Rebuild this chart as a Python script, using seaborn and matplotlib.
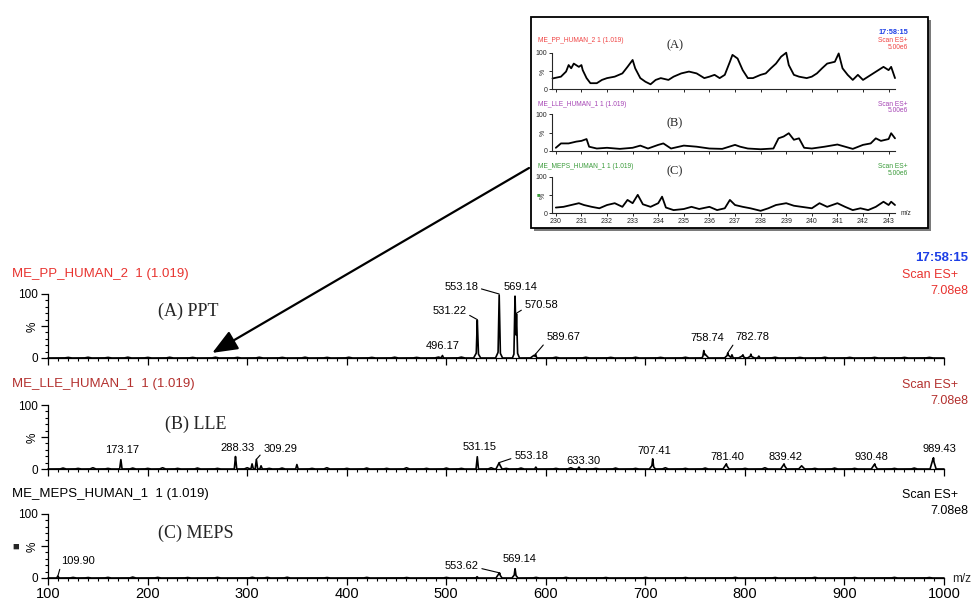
import numpy as np
import pandas as pd
import matplotlib
matplotlib.use("Agg")
import matplotlib.pyplot as plt
import seaborn as sns
from matplotlib.patches import Rectangle
from matplotlib.ticker import MultipleLocator, FixedLocator

sns.set_theme(style="ticks")
plt.rcParams["font.family"] = ["Liberation Sans", "DejaVu Sans"]

# ------------------------------------------------------------------ data
# (A) PPT main spectrum: labelled / sharp peaks (m/z, relative %)
pp_mz = [496.17, 531.22, 553.18, 569.14, 570.58, 589.67, 758.74, 782.78, 787.0, 798.0, 806.0, 814.0]
pp_int = [4, 60, 100, 100, 70, 6, 12, 8, 5, 5, 6, 3]
# broad bumps / baseline noise
pp_bump_mz = [120, 140, 160, 180, 200, 222, 245, 268, 290, 312, 335, 358, 380, 402, 425, 448, 470,
              492, 515, 531, 553, 570, 588, 610, 640, 665, 690, 715, 740, 760, 783, 797, 806,
              830, 855, 880, 905, 930, 960, 985]
pp_bump_int = [1, 1.2, 1, 1.3, 1, 1.2, 1, 1.3, 1, 1.2, 1, 1.3, 1, 1.2, 1, 1.3, 1,
               1.5, 1.5, 10, 12, 14, 4, 1.3, 1.2, 1, 1.2, 1, 1.2, 6, 5, 3, 3,
               1.2, 1, 1.2, 1, 1, 1, 1]
pp_labels = [496.17, 531.22, 553.18, 569.14, 570.58, 589.67, 758.74, 782.78]

# (B) LLE
lle_mz = [173.17, 288.33, 305.0, 309.29, 314.0, 350.0, 531.15, 553.18, 590.0, 633.30,
          707.41, 781.40, 839.42, 857.0, 930.48, 989.43]
lle_int = [15, 20, 8, 15, 5, 7, 20, 10, 3, 3, 16, 8, 8, 5, 8, 18]
lle_bump_mz = [115, 130, 145, 160, 185, 200, 215, 230, 250, 270, 300, 322, 335, 365, 380, 400,
               420, 440, 460, 480, 500, 515, 545, 553, 560, 575, 610, 625, 650, 670, 690, 707,
               720, 740, 760, 781, 800, 820, 839, 857, 870, 890, 910, 930, 950, 970, 989]
lle_bump_int = [1.5, 1, 2, 1, 1.5, 1, 2, 1, 1.5, 1, 2, 1, 1.5, 1, 2, 1,
                1.5, 1, 2, 1, 1.5, 1, 2, 9, 1, 1.5, 1, 2, 1, 1.5, 1, 6,
                2, 1, 1.5, 7, 1, 2, 7, 5, 1, 1.5, 1, 7, 1, 1.5, 16]
lle_labels = [173.17, 288.33, 309.29, 531.15, 553.18, 633.30, 707.41, 781.40, 839.42, 930.48, 989.43]

# (C) MEPS
meps_mz = [109.90, 531.0, 553.62, 569.14]
meps_int = [3, 2, 8, 15]
meps_bump_mz = [125, 140, 160, 185, 210, 240, 270, 305, 320, 340, 380, 420, 460, 500, 553, 569,
                590, 620, 660, 700, 740, 790, 830, 870, 910, 950, 985]
meps_bump_int = [1, 0.8, 1, 1.5, 1, 0.8, 1, 1.2, 1, 1.2, 0.8, 1, 0.8, 1, 7, 6,
                 1, 1, 0.8, 1, 0.8, 1, 0.8, 1, 0.8, 1, 0.8]
meps_labels = [109.90, 553.62, 569.14]

# Inset (zoom 230-243 m/z)
ins_pp_x = [229.87, 230.2, 230.4, 230.5, 230.6, 230.7, 230.9, 231.0, 231.05, 231.2, 231.35, 231.6,
            231.8, 232.0, 232.3, 232.6, 232.8, 233.0, 233.1, 233.3, 233.5, 233.7, 233.9, 234.1,
            234.4, 234.6, 234.9, 235.2, 235.5, 235.8, 236.0, 236.2, 236.4, 236.6, 236.8, 236.9,
            237.1, 237.3, 237.5, 237.7, 238.0, 238.2, 238.4, 238.6, 238.8, 239.0, 239.1, 239.3,
            239.5, 239.8, 240.0, 240.2, 240.4, 240.6, 240.9, 241.05, 241.2, 241.4, 241.6, 241.8,
            242.0, 242.2, 242.4, 242.6, 242.8, 243.0, 243.1, 243.25]
ins_pp_y = [29, 34, 48, 66, 57, 70, 61, 66, 52, 30, 16, 16,
            25, 30, 34, 43, 61, 80, 57, 30, 20, 13, 25, 30,
            25, 34, 43, 48, 43, 30, 34, 39, 30, 39, 75, 94,
            84, 52, 30, 30, 39, 43, 57, 70, 89, 100, 66, 39,
            34, 30, 34, 43, 57, 70, 75, 98, 57, 39, 25, 39,
            25, 34, 43, 52, 61, 52, 61, 30]
ins_lle_x = [230.0, 230.2, 230.5, 230.8, 231.0, 231.2, 231.3, 231.6, 232.0, 232.5, 233.0, 233.3,
             233.6, 234.0, 234.2, 234.5, 235.0, 235.5, 236.0, 236.5, 237.0, 237.2, 237.5, 238.0,
             238.5, 238.7, 238.9, 239.1, 239.3, 239.5, 239.7, 240.0, 240.5, 241.0, 241.3, 241.6,
             242.0, 242.3, 242.5, 242.7, 243.0, 243.1, 243.25]
ins_lle_y = [8, 20, 20, 25, 27, 32, 11, 6, 8, 5, 8, 14,
             6, 16, 20, 6, 14, 11, 6, 5, 16, 11, 6, 4,
             6, 34, 39, 48, 30, 34, 8, 6, 11, 17, 11, 5,
             16, 20, 34, 27, 32, 48, 34]
ins_meps_x = [230.0, 230.3, 230.6, 230.9, 231.1, 231.4, 231.7, 232.0, 232.3, 232.6, 232.8, 233.0,
              233.2, 233.4, 233.7, 234.0, 234.15, 234.3, 234.6, 235.0, 235.3, 235.6, 236.0, 236.3,
              236.6, 236.8, 237.0, 237.3, 237.6, 238.0, 238.3, 238.6, 239.0, 239.3, 239.6, 240.0,
              240.3, 240.6, 241.0, 241.3, 241.6, 241.9, 242.2, 242.5, 242.8, 243.0, 243.1, 243.25]
ins_meps_y = [15, 17, 22, 27, 22, 17, 13, 22, 27, 17, 36, 27,
              50, 24, 17, 27, 45, 15, 8, 11, 17, 11, 17, 8,
              13, 36, 22, 17, 13, 6, 13, 22, 27, 20, 17, 13,
              27, 17, 27, 17, 8, 13, 8, 17, 31, 22, 31, 22]
ins_ticks = list(range(230, 244))

# ------------------------------------------------------------------ style
RED = "#e8332f"
LLE_RED = "#b3302e"
BLUE = "#1d3fe6"
INS_RED = "#f04444"
INS_PURPLE = "#a645b5"
INS_GREEN = "#3c9c3c"

# label offsets (pixels from peak apex) and leader-line anchor (None = no leader)
pp_lab_style = {496.17: (0, 9, None), 531.22: (-28, 9, (1, 0.2)), 553.18: (-38, 7, (1, 0.4)),
                569.14: (5, 7, None), 570.58: (25, 8, (0, 0.2)), 589.67: (28, 17, (0, 0.1)),
                758.74: (3, 12, None), 782.78: (25, 16, (0, 0.1))}
lle_lab_style = {173.17: (1, 9, None), 288.33: (2, 8, None), 309.29: (24, 10, (0, 0.3)),
                 531.15: (2, 9, None), 553.18: (32, 7, (0, 0.3)), 633.30: (5, 6, None),
                 707.41: (2, 8, None), 781.40: (1, 7, None), 839.42: (1, 7, None),
                 930.48: (-3, 7, None), 989.43: (6, 8, None)}
meps_lab_style = {109.90: (20, 15, (0, 0.1)), 553.62: (-38, 7, (1, 0.3)), 569.14: (4, 9, None)}

W, H = 973, 603
fig = plt.figure(figsize=(W / 100, H / 100), dpi=100)
fig.patch.set_facecolor("white")


def px_axes(x0, x1, ytop, ybot):
    ax = fig.add_axes([x0 / W, 1 - ybot / H, (x1 - x0) / W, (ybot - ytop) / H])
    ax.set_facecolor("none")
    return ax


def ftext(x, y, s, **kw):
    kw.setdefault("va", "center")
    fig.text(x / W, 1 - y / H, s, **kw)


grid = np.round(np.arange(100.0, 1000.01, 0.1), 2)


def profile(mz, inten, bmz, bint, hw_peak=1.2, hw_bump=3.5):
    y = np.zeros_like(grid)
    for m, h in zip(mz, inten):
        y = np.maximum(y, h * np.clip(1 - np.abs(grid - m) / hw_peak, 0, None))
    for m, h in zip(bmz, bint):
        y = np.maximum(y, h * np.clip(1 - np.abs(grid - m) / hw_bump, 0, None))
    return pd.DataFrame({"mz": grid, "pct": y})


def main_panel(ax, df, show_x):
    sns.lineplot(data=df, x="mz", y="pct", ax=ax, color="black", lw=1.2,
                 estimator=None, sort=False)
    for ln in ax.lines:
        ln.set_clip_on(False)
    ax.set_xlim(100, 1000)
    ax.set_ylim(0, 100)
    ax.set_xlabel("")
    ax.set_ylabel("")
    sns.despine(ax=ax)
    for s in ("left", "bottom"):
        ax.spines[s].set_linewidth(0.9)
        ax.spines[s].set_color("black")
    ax.xaxis.set_major_locator(MultipleLocator(100))
    ax.xaxis.set_minor_locator(MultipleLocator(10))
    ax.yaxis.set_major_locator(FixedLocator([0, 50, 100]))
    ax.yaxis.set_minor_locator(MultipleLocator(10))
    ax.tick_params(which="major", length=5, width=0.9, color="black", pad=2)
    ax.tick_params(which="minor", length=2.5, width=0.8, color="black")
    ax.set_yticks([0, 50, 100])
    ax.set_yticklabels(["0", "%", "100"], fontsize=8.5, color="black")
    ax.get_yticklabels()[1].set_rotation(90)
    if show_x:
        ax.tick_params(axis="x", labelsize=10.5, labelcolor="black", pad=1.5)
    else:
        ax.tick_params(axis="x", labelbottom=False)


def label_peaks(ax, mz, inten, labels, style):
    lookup = dict(zip(mz, inten))
    for m in labels:
        dx, dy, rp = style[m]
        kw = dict(xy=(m, lookup[m]), xytext=(dx, dy), textcoords="offset pixels",
                  ha="center", va="center", fontsize=8, color="black")
        if rp is not None:
            kw["arrowprops"] = dict(arrowstyle="-", color="black", lw=0.8,
                                    shrinkA=0, shrinkB=0, relpos=rp)
        ax.annotate(f"{m:.2f}", **kw)


axA = px_axes(48, 944, 294, 358)
axB = px_axes(48, 944, 405, 469)
axC = px_axes(48, 944, 514, 578)

main_panel(axA, profile(pp_mz, pp_int, pp_bump_mz, pp_bump_int), False)
main_panel(axB, profile(lle_mz, lle_int, lle_bump_mz, lle_bump_int, 1.2, 3.0), False)
main_panel(axC, profile(meps_mz, meps_int, meps_bump_mz, meps_bump_int, 1.2, 3.0), True)

label_peaks(axA, pp_mz, pp_int, pp_labels, pp_lab_style)
label_peaks(axB, lle_mz, lle_int, lle_labels, lle_lab_style)
label_peaks(axC, meps_mz, meps_int, meps_labels, meps_lab_style)

# headers of main panels
ftext(12, 274, "ME_PP_HUMAN_2  1 (1.019)", color=RED, fontsize=9.5)
ftext(12, 384, "ME_LLE_HUMAN_1  1 (1.019)", color=LLE_RED, fontsize=9.5)
ftext(12, 494, "ME_MEPS_HUMAN_1  1 (1.019)", color="black", fontsize=9.5)
ftext(968, 258, "17:58:15", color=BLUE, fontsize=9.5, fontweight="bold", ha="right")
for y0, col in ((275, RED), (385, LLE_RED), (495, "black")):
    ftext(958, y0, "Scan ES+", color=col, fontsize=9, ha="right")
    ftext(968, y0 + 16, "7.08e8", color=col, fontsize=9, ha="right")
ftext(952, 579, "m/z", fontsize=8.5, ha="left")
ftext(158, 311, "(A) PPT", fontsize=13, family=["Liberation Serif", "DejaVu Serif"])
ftext(165, 424, "(B) LLE", fontsize=13, family=["Liberation Serif", "DejaVu Serif"])
ftext(158, 533, "(C) MEPS", fontsize=13, family=["Liberation Serif", "DejaVu Serif"])
ftext(16, 547, "■", fontsize=8, ha="center")

# ------------------------------------------------------------------ inset
shadow = Rectangle(((531 + 3) / W, 1 - (228 + 3) / H), (928 - 531) / W, (228 - 17) / H,
                   transform=fig.transFigure, facecolor="#7a7a7a", edgecolor="none", zorder=5)
box = Rectangle((531 / W, 1 - 228 / H), (928 - 531) / W, (228 - 17) / H,
                transform=fig.transFigure, facecolor="white", edgecolor="black", lw=1.3, zorder=6)
fig.add_artist(shadow)
fig.add_artist(box)

ins_specs = [
    (ins_pp_x, ins_pp_y, 52.7, 89.0, "ME_PP_HUMAN_2 1 (1.019)", INS_RED, "(A)", 41, 45.7),
    (ins_lle_x, ins_lle_y, 114.3, 150.7, "ME_LLE_HUMAN_1 1 (1.019)", INS_PURPLE, "(B)", 104, 123),
    (ins_meps_x, ins_meps_y, 176.7, 213.0, "ME_MEPS_HUMAN_1 1 (1.019)", INS_GREEN, "(C)", 166.7, 171.7),
]
for i, (xs, ys, yt, yb, name, col, tag, ylab, ytag) in enumerate(ins_specs):
    ax = px_axes(552, 895, yt, yb)
    ax.set_zorder(7)
    sns.lineplot(x=xs, y=ys, ax=ax, color="black", lw=1.3, estimator=None, sort=False)
    for ln in ax.lines:
        ln.set_clip_on(False)
    ax.set_xlim(229.85, 243.25)
    ax.set_ylim(0, 100)
    sns.despine(ax=ax)
    for s in ("left", "bottom"):
        ax.spines[s].set_linewidth(0.8)
    ax.set_xticks(ins_ticks)
    ax.set_yticks([0, 50, 100])
    ax.set_yticklabels(["0", "%", "100"], fontsize=5)
    ax.get_yticklabels()[1].set_rotation(90)
    ax.tick_params(which="major", length=2.5, width=0.7, pad=1)
    if i == 2:
        ax.set_xticklabels([str(t) for t in ins_ticks], fontsize=5)
    else:
        ax.tick_params(axis="x", labelbottom=False)
    ax.set_xlabel("")
    ax.set_ylabel("")
    ftext(538, ylab, name, color=col, fontsize=4.8, zorder=8)
    ftext(675, ytag, tag, fontsize=9, ha="center", zorder=8,
          family=["Liberation Serif", "DejaVu Serif"])
    ftext(908, ylab, "Scan ES+", color=col, fontsize=4.8, ha="right", zorder=8)
    ftext(908, ylab + 6.5, "5.00e6", color=col, fontsize=4.8, ha="right", zorder=8)

ftext(908, 32.3, "17:58:15", color=BLUE, fontsize=5.3, fontweight="bold", ha="right", zorder=8)
ftext(901, 214, "m/z", fontsize=4.8, zorder=8)
ftext(538, 195, "■", color=INS_GREEN, fontsize=4, ha="center", zorder=8)

# arrow from inset to region in panel A
axA.annotate("", xy=(265, 8), xycoords="data", xytext=(529, H - 168), textcoords="figure pixels",
             arrowprops=dict(arrowstyle="-|>,head_length=1.1,head_width=0.45", mutation_scale=14,
                             lw=1.6, color="black", shrinkA=0, shrinkB=0), zorder=9)

fig.savefig("out.png", dpi=100, facecolor="white")
